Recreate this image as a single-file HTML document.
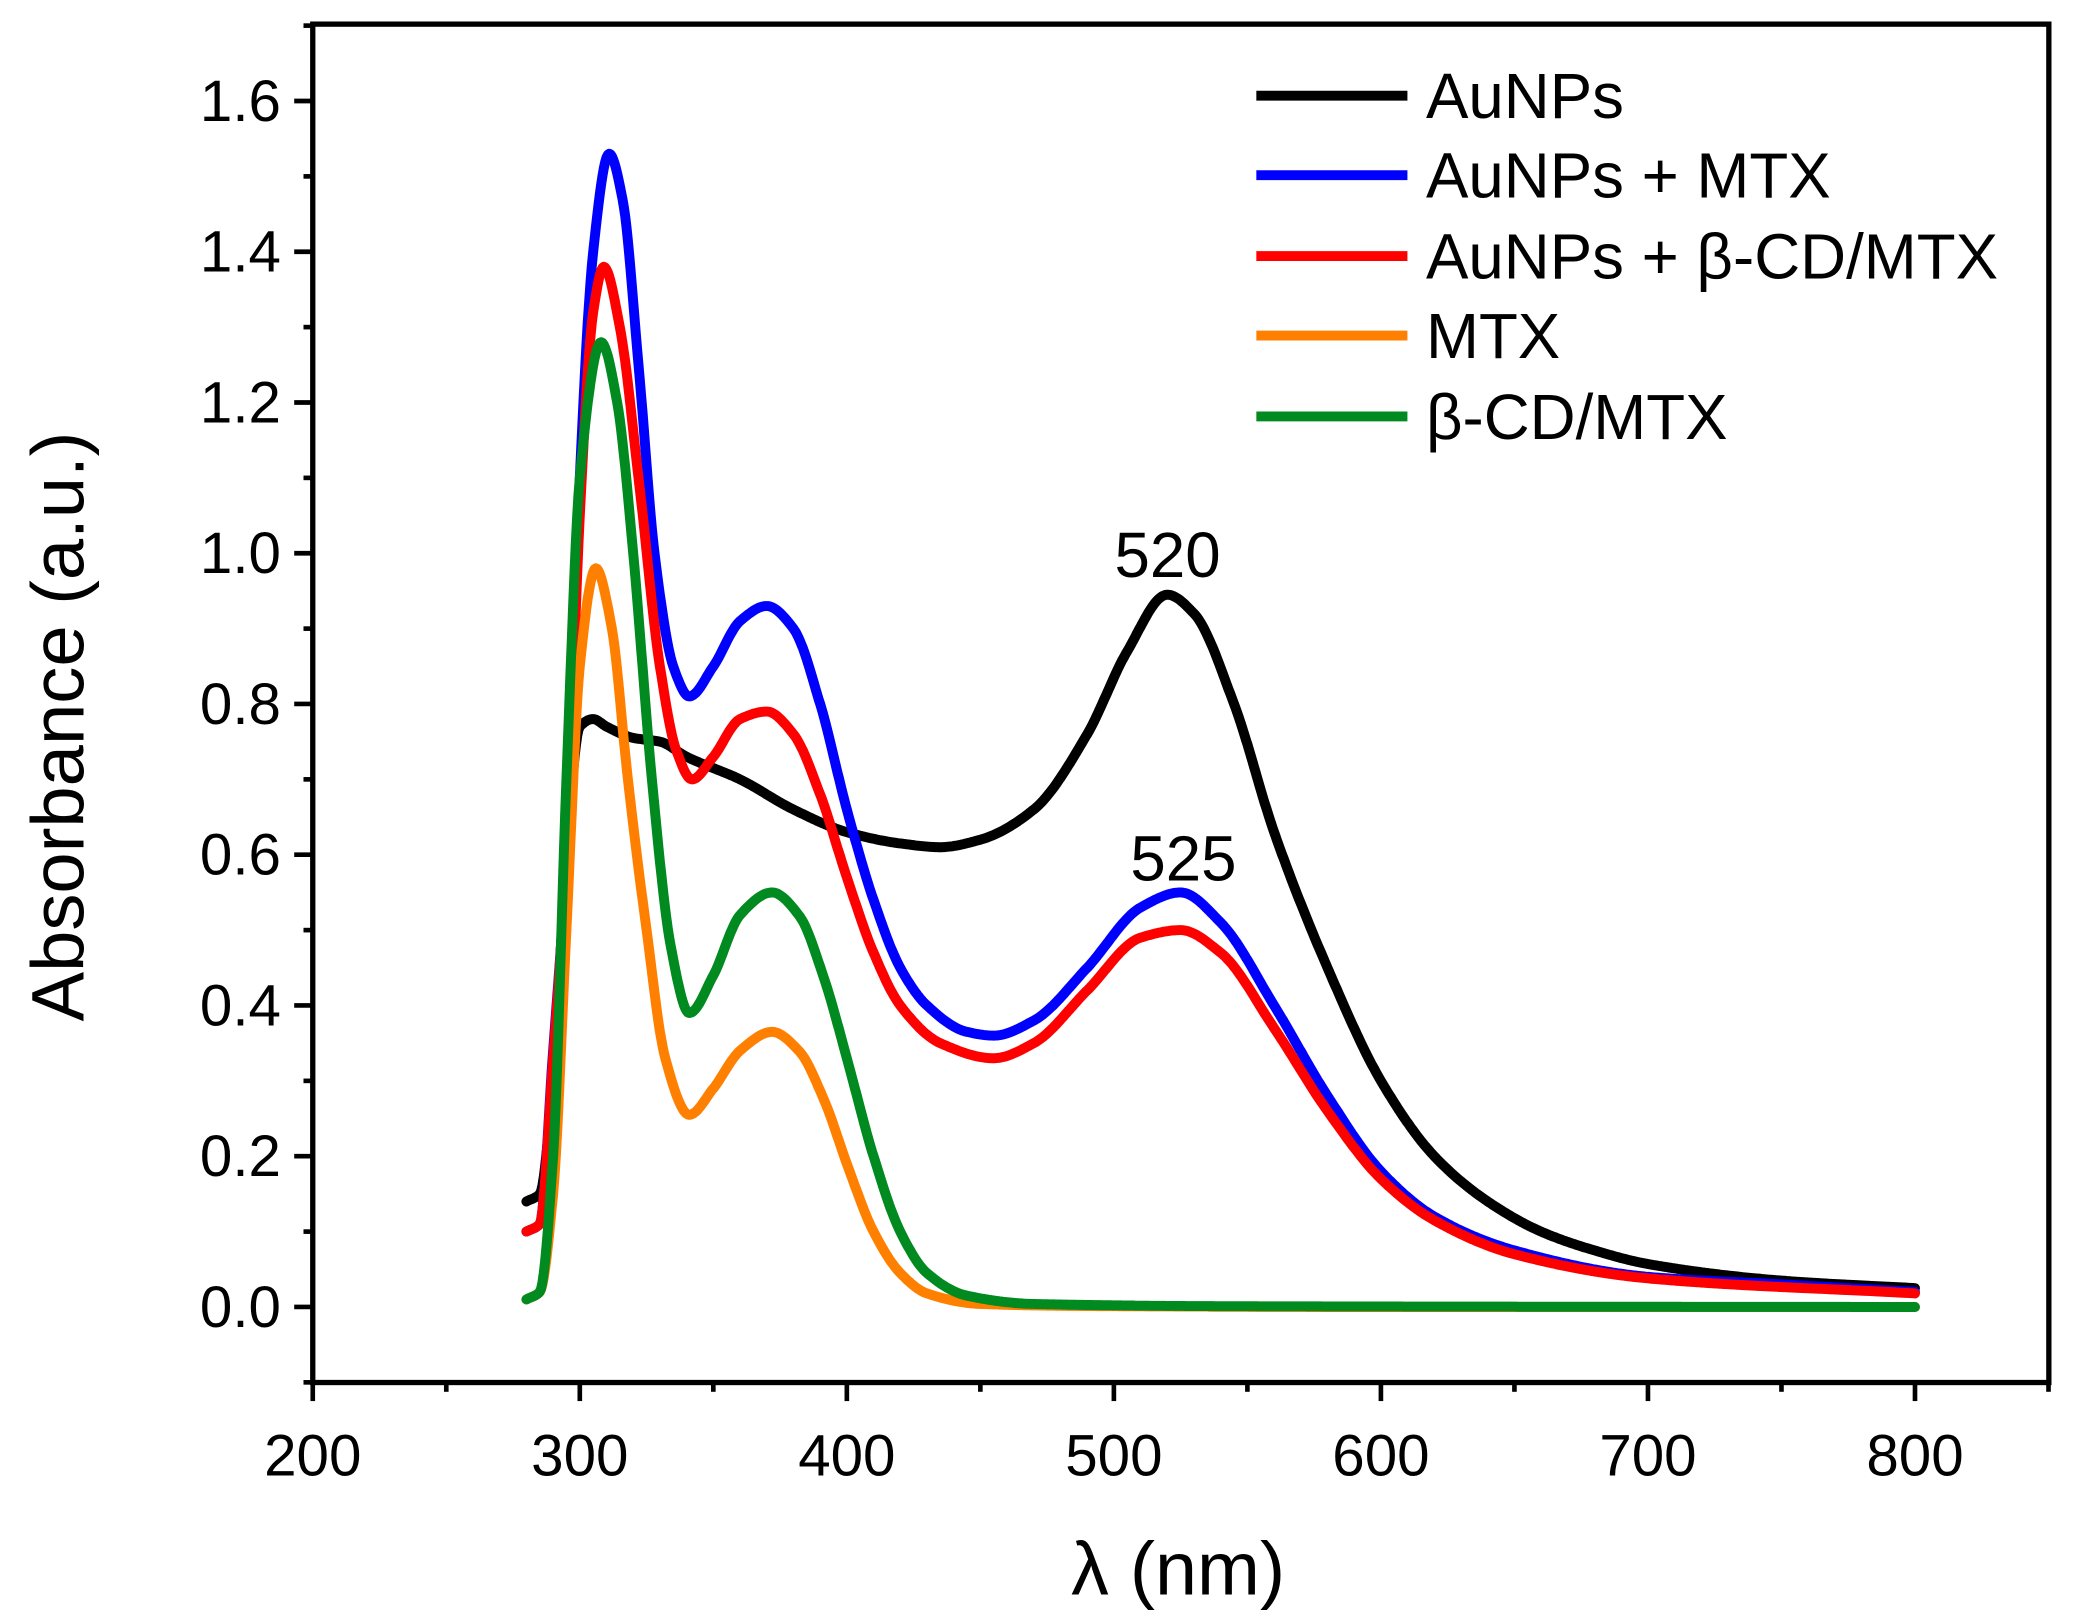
<!DOCTYPE html>
<html><head><meta charset="utf-8"><style>
html,body{margin:0;padding:0;background:#fff;}
svg{display:block;font-family:"Liberation Sans",Arial,sans-serif;}
</style></head><body>
<svg id="s" width="2078" height="1624" viewBox="0 0 1568 1225" xmlns="http://www.w3.org/2000/svg">
<rect width="1568" height="1225" fill="#fff"/>
<g id="ticks" stroke="#000" stroke-width="3.5" fill="none"></g>
<g id="curves" fill="none" stroke-width="7.5" stroke-linejoin="round" stroke-linecap="round"></g>
<rect x="236" y="18" width="1310" height="1025" fill="none" stroke="#000" stroke-width="4"/>
<g id="labels" font-size="44" fill="#000"></g>
<text x="881" y="435" font-size="48" text-anchor="middle">520</text>
<text x="893" y="664" font-size="48" text-anchor="middle">525</text>
<text x="889" y="1203" font-size="57" text-anchor="middle">λ (nm)</text>
<text transform="translate(63,548) rotate(-90)" font-size="56" text-anchor="middle">Absorbance (a.u.)</text>
<g font-size="48">
<line x1="948" y1="72" x2="1062" y2="72" stroke="#000" stroke-width="7.5"/>
<text x="1076" y="89">AuNPs</text>
<line x1="948" y1="132" x2="1062" y2="132" stroke="#0000ff" stroke-width="7.5"/>
<text x="1076" y="149">AuNPs + MTX</text>
<line x1="948" y1="193" x2="1062" y2="193" stroke="#ff0000" stroke-width="7.5"/>
<text x="1076" y="210">AuNPs + β-CD/MTX</text>
<line x1="948" y1="253" x2="1062" y2="253" stroke="#ff8000" stroke-width="7.5"/>
<text x="1076" y="270">MTX</text>
<line x1="948" y1="314" x2="1062" y2="314" stroke="#008a1f" stroke-width="7.5"/>
<text x="1076" y="331">β-CD/MTX</text>
</g>
</svg>
<script>
var NS="http://www.w3.org/2000/svg";
function X(n){return 236+(n-200)*2.015;}
function Y(a){return 986-a*568.75;}
function el(p,t,a,txt){var e=document.createElementNS(NS,t);for(var k in a)e.setAttribute(k,a[k]);if(txt)e.textContent=txt;document.getElementById(p).appendChild(e);}
for(var i=-1;i<=17;i++){var v=i/10,y=Y(v);var major=(i%2==0);
 el("ticks","line",{x1:major?222:229,y1:y,x2:236,y2:y});
 if(major&&i>=0)el("labels","text",{x:212,y:y+15,"text-anchor":"end"},v.toFixed(1));}
for(var n=200;n<=850;n+=50){var x=X(n);var major=(n%100==0);
 el("ticks","line",{x1:x,y1:1043,x2:x,y2:major?1057:1050});
 if(major)el("labels","text",{x:x,y:1113,"text-anchor":"middle"},String(n));}
var D={
"#000":[[280,.14],[285,.15],[290,.3],[295,.6],[300,.77],[305,.78],[310,.77],[320,.755],[330,.75],[340,.73],[360,.70],[380,.66],[400,.63],[420,.615],[435,.61],[450,.62],[470,.66],[490,.76],[505,.87],[520,.945],[530,.92],[545,.80],[560,.63],[580,.45],[600,.30],[620,.2],[640,.14],[660,.10],[680,.075],[700,.057],[750,.035],[800,.025]],
"#0000ff":[[280,.1],[285,.11],[290,.34],[295,.6],[300,1.1],[305,1.4],[311,1.53],[316,1.47],[322,1.25],[328,1.0],[335,.85],[341,.81],[350,.85],[360,.91],[370,.93],[380,.9],[390,.8],[400,.66],[410,.54],[420,.45],[430,.4],[445,.365],[455,.36],[470,.38],[490,.45],[510,.53],[525,.55],[540,.51],[560,.40],[580,.28],[600,.18],[620,.12],[650,.075],[700,.04],[750,.03],[800,.02]],
"#ff0000":[[280,.1],[285,.11],[290,.33],[295,.6],[300,1.05],[305,1.32],[309,1.38],[315,1.3],[322,1.1],[330,.85],[336,.74],[342,.70],[350,.73],[360,.78],[370,.79],[380,.76],[390,.68],[400,.57],[410,.47],[420,.4],[435,.35],[455,.33],[470,.35],[490,.42],[510,.49],[525,.50],[540,.47],[560,.37],[580,.26],[600,.17],[620,.115],[650,.07],[700,.038],[800,.018]],
"#ff8000":[[280,.01],[285,.02],[290,.15],[295,.5],[300,.85],[306,.98],[312,.9],[318,.7],[325,.5],[332,.33],[341,.255],[350,.29],[360,.34],[372,.365],[382,.34],[392,.27],[400,.19],[410,.1],[420,.045],[430,.018],[450,.004],[500,.001],[600,0],[800,0]],
"#008a1f":[[280,.01],[285,.02],[290,.2],[295,.7],[300,1.1],[308,1.28],[314,1.2],[320,1.0],[327,.7],[334,.48],[341,.39],[350,.44],[360,.52],[372,.55],[382,.52],[392,.43],[400,.33],[410,.2],[420,.1],[430,.045],[445,.015],[470,.004],[550,.001],[800,0]]};
function mono(pts){var n=pts.length,xs=pts.map(p=>p[0]),ys=pts.map(p=>p[1]),d=[],m=[];
 for(var i=0;i<n-1;i++)d.push((ys[i+1]-ys[i])/(xs[i+1]-xs[i]));
 m[0]=d[0];m[n-1]=d[n-2];
 for(var i=1;i<n-1;i++){if(d[i-1]*d[i]<=0)m[i]=0;else{var w1=2*(xs[i+1]-xs[i])+(xs[i]-xs[i-1]),w2=(xs[i+1]-xs[i])+2*(xs[i]-xs[i-1]);m[i]=(w1+w2)/(w1/d[i-1]+w2/d[i]);}}
 var out=[];
 for(var i=0;i<n-1;i++){var h=xs[i+1]-xs[i];for(var x=xs[i];x<xs[i+1];x+=0.5){var t=(x-xs[i])/h,t2=t*t,t3=t2*t;
  var y=(2*t3-3*t2+1)*ys[i]+(t3-2*t2+t)*h*m[i]+(-2*t3+3*t2)*ys[i+1]+(t3-t2)*h*m[i+1];out.push([x,y]);}}
 out.push([xs[n-1],ys[n-1]]);return out;}
for(var c in D){var p=mono(D[c]);
 var d="M"+p.map(q=>X(q[0]).toFixed(1)+","+Y(q[1]).toFixed(1)).join(" L");
 el("curves","path",{d:d,stroke:c});}
</script>
</body></html>
